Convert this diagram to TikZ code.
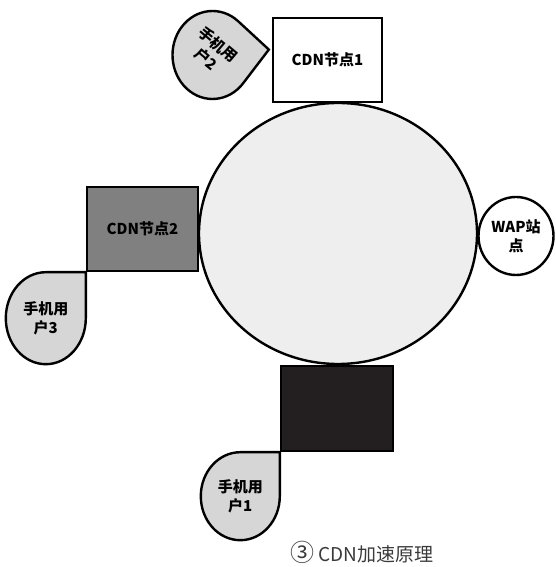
\documentclass[tikz,border=0pt]{standalone}
\usepackage{fontspec}
\setmainfont{Noto Sans CJK SC}
\usetikzlibrary{shapes.geometric}
\definecolor{ringfill}{HTML}{EEEEEE}
\definecolor{userfill}{HTML}{D6D6D6}
\definecolor{nodegray}{HTML}{808080}
\definecolor{nodedark}{HTML}{231F20}
\definecolor{captiongray}{HTML}{3A3A3A}
\begin{document}
\begin{tikzpicture}[x=1pt,y=1pt,line width=2.4pt,
    font=\fontsize{15}{19}\selectfont\bfseries,
    cdn/.style={draw,rectangle,minimum width=109pt,minimum height=84pt,inner sep=0pt},
    user/.style={draw,fill=userfill,line join=miter},
    usertext/.style={align=center,inner sep=0pt}]
    \useasboundingbox (0,0) rectangle (555,567);
    %% ring
    \node[draw,ellipse,fill=ringfill,minimum width=278pt,minimum height=261pt,inner sep=0pt] (ring) at (338,333.5) {};
    %% cdn nodes
    \node[cdn,fill=white] (cdn1) at (327.5,507) {CDN节点1};
    \node[cdn,fill=nodegray,minimum width=111pt] (cdn2) at (142.5,338) {CDN节点2};
    \node[cdn,fill=nodedark,minimum width=112pt,minimum height=85pt] (cdn3) at (337,158.5) {};
    \node[draw,ellipse,minimum width=75pt,minimum height=78pt,inner sep=0pt,align=center] (wap) at (516,331) {WAP站\\点};
    %% users
    \draw[user] (cdn2.south west) -- ++(-40,0) arc[start angle=90,end angle=360,x radius=40,y radius=46] -- cycle;
    \node[usertext] (user3) at ([shift={(-40,-46)}]cdn2.south west) {手机用\\户3};
    \draw[user] (cdn3.south west) -- ++(-39.5,0) arc[start angle=90,end angle=360,x radius=39.5,y radius=44] -- cycle;
    \node[usertext] (user1) at ([shift={(-39.5,-44)}]cdn3.south west) {手机用\\户1};
    \begin{scope}[shift={(212.5,512)},yscale=1.1,rotate=-40]
        \draw[user] (40,40) -- (0,40) arc[start angle=90,end angle=360,radius=40] -- cycle;
        \node[usertext,rotate=-40] (user2) at (-2,2) {手机用\\户2};
    \end{scope}
    %% caption
    \node[anchor=west,font=\fontsize{19}{22}\selectfont,text=captiongray] (caption) at (286,15) {{\fontsize{24}{24}\selectfont ③}\ CDN加速原理};
\end{tikzpicture}
\end{document}
